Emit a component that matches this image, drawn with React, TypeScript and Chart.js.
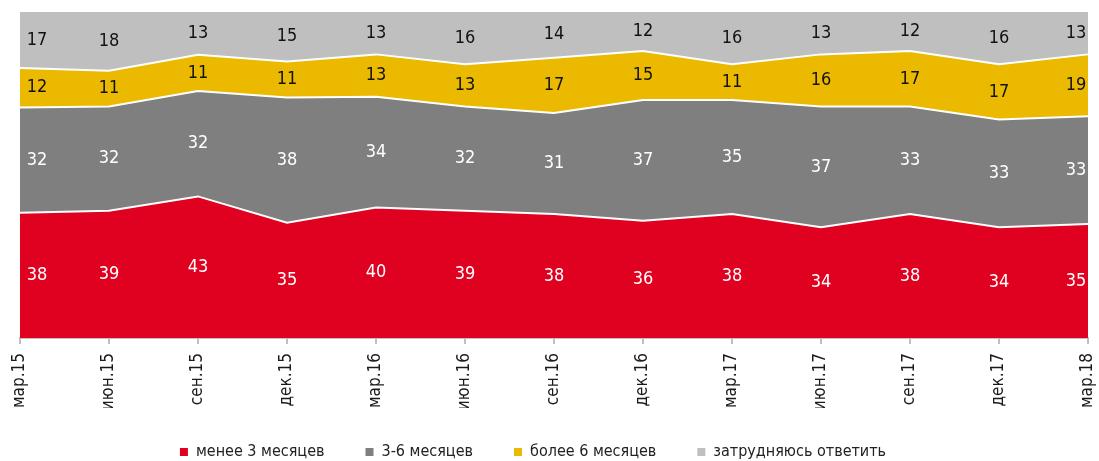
import React, { useEffect, useRef } from "react";
import { Chart, registerables } from "chart.js";

Chart.register(...registerables);

const categories = ["мар.15", "июн.15", "сен.15", "дек.15", "мар.16", "июн.16", "сен.16", "дек.16", "мар.17", "июн.17", "сен.17", "дек.17", "мар.18"];
const lessThan3 = [38, 39, 43, 35, 40, 39, 38, 36, 38, 34, 38, 34, 35];
const from3to6 = [32, 32, 32, 38, 34, 32, 31, 37, 35, 37, 33, 33, 33];
const moreThan6 = [12, 11, 11, 11, 13, 13, 17, 15, 11, 16, 17, 17, 19];
const hardToSay = [17, 18, 13, 15, 13, 16, 14, 12, 16, 13, 12, 16, 13];

const seriesNames = ["менее 3 месяцев", "3-6 месяцев", "более 6 месяцев", "затрудняюсь ответить"];
const seriesColors = ["#e0001f", "#7f7f7f", "#ebba00", "#bfbfbf"];
const labelColors = ["#ffffff", "#ffffff", "#111111", "#111111"];

const FONT = "'Liberation Sans Narrow', 'DejaVu Sans Condensed', 'Roboto', sans-serif";

const raw = [lessThan3, from3to6, moreThan6, hardToSay];
const totals = categories.map((_, i) => raw.reduce((s, arr) => s + arr[i], 0));
const normalized = raw.map((arr) => arr.map((v, i) => (v / totals[i]) * 100));

const labelPlugin = {
  id: "bandLabels",
  afterLayout(chart: any) {
    const lg = chart.legend;
    if (lg) {
      lg.left -= 21;
      lg.right -= 21;
      lg.top -= 5;
      lg.bottom -= 5;
    }
  },
  afterDatasetsDraw(chart: any) {
    const ctx = chart.ctx;
    const area = chart.chartArea;
    const yScale = chart.scales.y;
    ctx.save();
    ctx.font = `18px ${FONT}`;
    ctx.textAlign = "center";
    ctx.textBaseline = "middle";
    chart.data.datasets.forEach((ds: any, di: number) => {
      const meta = chart.getDatasetMeta(di);
      meta.data.forEach((pt: any, i: number) => {
        const top = pt.y;
        const bottom = di === 0 ? yScale.bottom : chart.getDatasetMeta(di - 1).data[i].y;
        const y = (top + bottom) / 2;
        let x = pt.x;
        x = Math.max(area.left + 17, Math.min(area.right - 12, x));
        ctx.fillStyle = labelColors[di];
        ctx.fillText(String(raw[di][i]), x, y);
      });
    });
    ctx.restore();
  },
};

export default function App() {
  const ref = useRef<HTMLCanvasElement | null>(null);
  useEffect(() => {
    document.body.style.margin = "0";
    const chart = new Chart(ref.current!, {
      type: "line",
      data: {
        labels: categories,
        datasets: normalized.map((arr, di) => ({
          label: seriesNames[di],
          data: arr,
          backgroundColor: seriesColors[di],
          borderColor: "#ffffff",
          borderWidth: di === 3 ? 0 : 2,
          fill: di === 0 ? "origin" : "-1",
          pointRadius: 0,
          tension: 0,
        })),
      },
      options: {
        animation: false,
        responsive: false,
        maintainAspectRatio: false,
        events: [],
        layout: { padding: { top: 12, left: 20, right: 11, bottom: -14 } },
        plugins: {
          tooltip: { enabled: false },
          legend: {
            position: "bottom",
            labels: {
              boxWidth: 8,
              boxHeight: 8,
              padding: 41,
              color: "#222222",
              font: { family: FONT, size: 16 },
              generateLabels: (c: any) =>
                c.data.datasets.map((ds: any, i: number) => ({
                  text: ds.label,
                  fillStyle: seriesColors[i],
                  strokeStyle: seriesColors[i],
                  lineWidth: 0,
                  hidden: false,
                  datasetIndex: i,
                  fontColor: "#222222",
                })),
            },
          },
        },
        scales: {
          x: {
            type: "category",
            offset: false,
            afterFit: (scale: any) => {
              scale.height = 70;
              scale.paddingLeft = 0;
              scale.paddingRight = 0;
            },
            grid: {
              display: true,
              drawOnChartArea: false,
              drawTicks: true,
              tickLength: 6,
              color: "#bfbfbf",
              lineWidth: 2,
            },
            border: { display: true, color: "#bfbfbf", width: 2 },
            ticks: {
              autoSkip: false,
              maxRotation: 90,
              minRotation: 90,
              padding: 9,
              color: "#1a1a1a",
              font: { family: FONT, size: 17 },
            },
          },
          y: {
            display: false,
            stacked: true,
            min: 0,
            max: 100,
          },
        },
      },
      plugins: [labelPlugin],
    });
    return () => chart.destroy();
  }, []);
  return (
    <div style={{ position: "fixed", left: 0, top: 0, width: 1099, height: 461 }}>
      <canvas ref={ref} width={1099} height={461} />
    </div>
  );
}
